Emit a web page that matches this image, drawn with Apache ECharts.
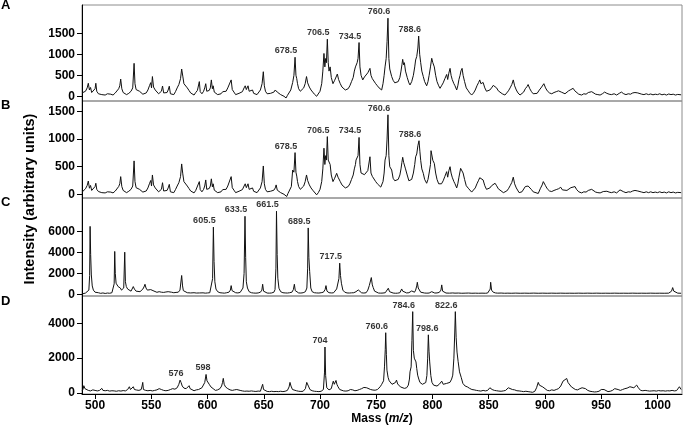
<!DOCTYPE html>
<html>
<head>
<meta charset="utf-8">
<script src="https://cdn.jsdelivr.net/npm/echarts@6.0.0/dist/echarts.min.js"></script>
<style>
  html, body { margin: 0; padding: 0; background: #fff; }
  #main { width: 685px; height: 434px; }
</style>
</head>
<body>
<div id="main"></div>
<script>
// spectra, [m/z, intensity]
var specA = [[488.5,80],[490,60],[491.5,120],[493,200],[494,310],[495,150],[496,210],[497,90],[498.5,130],[500,180],[500.7,310],[501.5,120],[503,60],[504.5,90],[506,40],[507.5,70],[509,30],[511,60],[512.5,20],[514,50],[516,30],[518,80],[519.5,120],[521,180],[522,250],[522.8,410],[523.8,180],[525,90],[526.5,60],[528,40],[530,70],[532,120],[533.5,200],[534.7,785],[535.5,300],[536.5,160],[538,200],[539.5,120],[541,80],[542.5,50],[544,30],[545.5,80],[547,150],[548.5,260],[549.5,325],[550.2,200],[551,470],[552,220],[553.5,150],[555,110],[556.5,60],[558,40],[559,120],[560,245],[561,80],[562.5,40],[564,90],[565,150],[566,240],[567,60],[568.5,80],[570,40],[571.5,110],[573,200],[574.5,280],[576,420],[577,650],[578,480],[579,300],[580.5,330],[582,200],[583.5,140],[585,80],[586.5,50],[588,30],[589.5,90],[591,140],[592.7,350],[593.5,110],[595,60],[596.5,120],[597.5,200],[598.4,300],[599.3,120],[600.5,80],[601.5,140],[602.5,200],[603.4,390],[604.3,180],[605,250],[606,100],[607.5,60],[609,40],[610.5,80],[612,60],[613.5,110],[615,70],[616.5,120],[618,200],[619.5,240],[621,390],[622,160],[623.5,100],[625,40],[626.5,20],[628,70],[629.5,40],[631,110],[632.5,200],[633.5,250],[634.5,160],[636,250],[637,120],[638.5,80],[640,150],[641,70],[642.5,110],[644,40],[645.5,60],[647,150],[648.5,300],[649.6,585],[650.5,250],[651.5,120],[653,60],[654.5,30],[656,70],[657.5,40],[659,100],[660.2,150],[661,190],[662,100],[663.5,60],[665,40],[666.5,20],[668,0],[669.8,-40],[671,20],[672.5,60],[674,150],[675.7,330],[676.8,500],[677.8,930],[678.6,500],[679.3,420],[680,300],[681,180],[682.5,120],[684,100],[685.5,200],[686.8,300],[688,470],[689,320],[690.5,220],[692,150],[693.5,100],[695,50],[697,0],[698.5,40],[700,120],[701.5,300],[702.5,600],[703.5,1020],[704.3,700],[705,900],[705.7,800],[706.5,1360],[707.3,800],[708,600],[709,700],[710,450],[711.5,300],[713,380],[714.2,420],[715.4,530],[716.5,400],[718,300],[719.5,220],[721,180],[722.5,150],[723.7,135],[725,180],[726.5,250],[728,350],[729.5,450],[730.5,600],[731.5,700],[732,745],[733,800],[733.8,900],[734.7,1280],[735.5,700],[736.5,500],[738,390],[739.5,460],[741,500],[742.5,560],[744.4,665],[745.3,500],[746.5,420],[748,380],[749.5,300],[751,250],[752.5,200],[754,170],[754.8,150],[756,300],[757,500],[757.8,700],[758.8,900],[759.6,1300],[760.4,1860],[761.2,900],[762,650],[763.7,470],[765,380],[766.5,320],[768,300],[769.5,350],[771,450],[772,600],[772.8,750],[773.5,880],[774.3,750],[775,800],[776,600],[777.5,450],[779,320],[780,270],[781.5,350],[783,500],[784.2,700],[785,865],[786,950],[787,1150],[787.7,1435],[788.6,1000],[789.5,800],[790.5,600],[791.8,470],[793,350],[794.8,250],[796,350],[797,500],[798.2,700],[799.3,905],[800.3,800],[801.6,700],[802.8,500],[804,350],[805.5,250],[806.7,190],[808,250],[809.5,320],[811,420],[812.6,520],[813.5,400],[814.5,550],[815.6,665],[816.5,500],[817.5,400],[819,300],[820,250],[821.5,150],[822.5,250],[823.5,400],[824.5,500],[825.3,605],[826.3,665],[827.2,500],[828.5,350],[830,200],[831.8,130],[833,80],[834.8,30],[836.5,80],[838,150],[839.5,250],[841,330],[842,390],[843,300],[844,280],[845,330],[846.5,200],[848,120],[849.6,80],[851,150],[852.5,200],[854,260],[855.6,300],[857,200],[858.5,130],[860,100],[862,60],[864.4,30],[866,80],[867.5,130],[869,200],[870.5,280],[871.8,390],[873,250],[874.5,150],[876,80],[877.8,30],[879.5,60],[881,100],[882.5,180],[884,230],[885,280],[886.5,180],[888,110],[889.5,60],[891,30],[893,70],[895,150],[897,220],[899,300],[900.5,200],[902,130],[904,80],[906,60],[908,90],[910,110],[912,130],[913,150],[914.5,100],[916,80],[917.8,60],[919.5,90],[921,130],[923,160],[925,190],[926.5,130],[928,90],[930,50],[932.6,30],[934.5,60],[936.5,50],[938.5,90],[940,80],[941.5,110],[943,70],[945,50],[947,40],[949,30],[951,60],[953,100],[955,70],[957,50],[959,40],[961.5,60],[963.7,30],[966,70],[968,100],[970,60],[972,40],[974,60],[976,50],[978,80],[980,90],[981,110],[982.5,80],[984,60],[986,50],[988,40],[990,60],[992,40],[994,55],[996,35],[998,50],[1000,40],[1002,60],[1004,35],[1006,50],[1008,30],[1010,55],[1012,40],[1014,50],[1016,30],[1018,45],[1021,35]];

var specB = [[488.5,40],[490,50],[491.5,100],[493,160],[494,240],[495,110],[496,160],[497,70],[498.5,100],[500,140],[500.7,200],[501.5,90],[503,50],[504.5,70],[506,30],[507.5,55],[509,25],[511,45],[512.5,15],[514,40],[516,25],[518,60],[519.5,90],[521,140],[522,190],[522.8,320],[523.8,140],[525,70],[526.5,45],[528,30],[530,55],[532,90],[533.5,150],[534.7,605],[535.5,230],[536.5,120],[538,150],[539.5,90],[541,60],[542.5,40],[544,25],[545.5,60],[547,115],[548.5,200],[549.5,250],[550.2,150],[551,350],[552,170],[553.5,115],[555,85],[556.5,45],[558,30],[559,90],[560,210],[561,60],[562.5,30],[564,70],[565,115],[566,180],[567,45],[568.5,60],[570,30],[571.5,85],[573,150],[574.5,210],[576,320],[577,550],[578,370],[579,230],[580.5,250],[582,150],[583.5,105],[585,60],[586.5,40],[588,25],[589.5,70],[591,105],[592.7,230],[593.5,85],[595,45],[596.5,90],[597.5,150],[598.4,260],[599.3,90],[600.5,60],[601.5,105],[602.5,150],[603.4,280],[604.3,135],[605,190],[606,75],[607.5,45],[609,30],[610.5,60],[612,45],[613.5,85],[615,55],[616.5,90],[618,150],[619.5,180],[621,320],[622,120],[623.5,75],[625,30],[626.5,15],[628,55],[629.5,30],[631,85],[632.5,150],[633.5,190],[634.5,120],[636,190],[637,90],[638.5,60],[640,115],[641,55],[642.5,85],[644,30],[645.5,45],[647,115],[648.5,230],[649.6,513],[650.5,190],[651.5,90],[653,45],[654.5,25],[656,55],[657.5,30],[659,75],[660.2,115],[661,170],[662,75],[663.5,45],[665,30],[666.5,15],[668,0],[670.4,-40],[671.5,15],[673,50],[674.5,140],[675.7,440],[676.8,400],[677.8,755],[678.6,400],[679.3,330],[680,230],[681,140],[682.5,90],[684,80],[685.5,150],[686.8,230],[688,350],[689,250],[690.5,170],[692,115],[693.5,75],[695,40],[697,-10],[698.5,30],[700,90],[701.5,230],[702.5,460],[703.5,835],[704.3,540],[705,700],[705.7,620],[706.5,1045],[707.3,620],[708.3,590],[709,540],[710,350],[711.5,230],[713,290],[714.8,380],[716,310],[718,230],[719.5,170],[721,140],[722.5,115],[723.7,110],[725,140],[726.5,190],[728,270],[729.5,350],[730.5,460],[731.5,540],[732,620],[733,620],[733.8,700],[734.7,1030],[735.5,540],[736.5,385],[738,350],[739.5,355],[741,385],[742.5,430],[744.4,680],[745.3,385],[746.5,325],[748,290],[749.5,230],[751,190],[752.5,155],[754,130],[754.8,125],[756,230],[757,385],[757.8,620],[758.8,700],[759.6,1000],[760.4,1440],[761.2,700],[762,500],[763.7,440],[765,290],[766.5,245],[768,260],[769.5,270],[771,350],[772,460],[772.8,580],[773.5,670],[774.3,580],[775,615],[776,460],[777.5,350],[779,245],[780,230],[781.5,270],[783,385],[784.2,540],[785,680],[786,730],[787,880],[788,970],[788.8,770],[789.5,615],[790.5,460],[791.8,380],[793,270],[794.8,200],[796,270],[797,385],[798.2,540],[798.7,790],[800.3,615],[801.6,560],[802.8,385],[804,270],[805.5,190],[806.7,170],[808,190],[809.5,245],[811,325],[812.6,410],[813.5,310],[814.5,425],[815.6,500],[816.5,385],[817.5,310],[819,230],[820,190],[821.5,115],[822.5,190],[823.5,310],[825,470],[826.3,500],[827.2,385],[828.5,270],[830,155],[831.8,110],[833,80],[834.8,40],[836.5,70],[838,115],[839.5,190],[841,255],[842,300],[843.7,310],[845,260],[846.5,155],[848,90],[849.6,60],[851,115],[852.5,155],[854,190],[855.6,200],[857,155],[858.5,100],[860,75],[863,30],[866,60],[867.5,100],[869,155],[870.5,215],[871.8,310],[873,190],[874.5,115],[877,30],[879.5,45],[881,75],[882.5,140],[884,150],[885,150],[886.5,140],[888,85],[889.5,45],[891,25],[894,15],[896,110],[897.5,170],[898.5,230],[900.5,155],[902,100],[904,60],[906,50],[908,70],[910,85],[912,100],[914,127],[915.5,80],[917,60],[919.5,70],[921,100],[923,120],[926.7,140],[928,90],[930,45],[932.6,25],[934.5,45],[936.5,40],[938.5,70],[940,60],[941.5,90],[943,55],[945,40],[947,30],[949,25],[951.8,50],[953,75],[955,55],[957,40],[959,30],[961.5,45],[963.7,25],[966.7,80],[968,70],[970,45],[972,30],[974,45],[976,40],[978,60],[980,70],[981.5,80],[982.5,60],[984,45],[986,40],[988,30],[990,45],[992,30],[994,45],[996,30],[998,40],[1000,30],[1002,45],[1004,30],[1006,40],[1008,25],[1010,45],[1012,30],[1014,40],[1016,25],[1018,35],[1021,30]];

var specC = [[488.5,30],[490,80],[491.5,120],[493,190],[494.5,400],[495.2,1800],[495.6,6500],[496.1,3800],[496.7,1850],[497.5,800],[498.5,400],[500,200],[501.5,100],[503,150],[505,90],[507,130],[509,80],[511,120],[513,100],[515,150],[516.3,190],[517,1000],[517.5,4100],[518,2000],[518.7,1060],[519.5,900],[520.5,740],[521.5,820],[522.5,600],[523.5,400],[524.5,300],[525.5,600],[526.4,4030],[527,1200],[527.8,740],[529,500],[530.5,350],[532,300],[533,450],[534,740],[535,500],[536.5,300],[538,200],[540,250],[541.5,350],[542.5,500],[543.5,700],[544.4,960],[545.3,600],[546.5,400],[548,350],[549.5,450],[550.4,580],[551.5,350],[553,200],[555,190],[557,250],[559,200],[561,180],[563,220],[565,250],[566.7,350],[568,200],[570,150],[572,180],[574,200],[575.5,400],[577,1800],[577.8,800],[578.5,350],[580,200],[582,150],[585,130],[588,150],[590,120],[593,130],[594.5,250],[596,140],[598,110],[600,130],[602,150],[603.5,300],[604.5,1500],[605.2,6430],[605.8,3140],[606.5,1200],[607.5,500],[609,250],[611,150],[613,130],[615,110],[617,150],[619,200],[620.3,400],[621,830],[621.8,350],[623,180],[625,150],[627,130],[629,180],[630.5,300],[631.5,600],[632.5,2000],[633.3,7465],[633.9,3500],[634.5,1200],[635.5,600],[637,250],[639,150],[641,120],[643,110],[645,130],[647,200],[648.3,400],[649,960],[649.8,300],[651,150],[653,120],[655,110],[657,130],[659,200],[660,450],[660.8,2500],[661.3,7950],[661.9,3800],[662.5,1540],[663.5,580],[665,250],[667,150],[669,130],[671,120],[673,150],[675,200],[676.3,450],[677.2,960],[678,350],[679.5,180],[681,130],[683,120],[685,150],[687,250],[688.3,600],[689,2500],[689.5,6350],[690.1,3500],[690.8,2180],[691.8,600],[693,250],[695,150],[697,130],[699,120],[701,150],[703,200],[704.5,450],[705.3,830],[706.2,300],[708,150],[710,130],[712,140],[713.5,250],[714.8,510],[716,600],[716.8,1500],[717.5,2980],[718.2,1800],[719,1060],[720.3,400],[722,200],[724,130],[726,120],[728,140],[730,150],[732,250],[733,350],[734,420],[735,250],[737,140],[739,120],[741,150],[742.5,400],[743.8,830],[744.6,1000],[745.6,1600],[746.5,900],[747.3,640],[748.5,300],[750,150],[752,120],[754,110],[756,120],[758,150],[759.5,300],[760.7,580],[761.8,250],[763,130],[765,120],[767,100],[769,110],[771,150],[772.6,510],[773.5,300],[775,150],[777,130],[779,150],[780.5,200],[781.5,320],[782.5,250],[784,200],[785,400],[786,800],[786.5,1150],[787.3,600],[788.2,500],[789.5,200],[791,130],[793,120],[795,110],[797,120],[799.3,250],[800.5,140],[802,120],[804,130],[806,180],[807.5,400],[808.2,900],[809,300],[810.5,150],[812,120],[815,110],[818,130],[820,110],[823,120],[826,100],[829,110],[832,120],[835,100],[838,110],[841,100],[844,110],[847,100],[849,120],[850.5,200],[851.3,500],[851.7,1150],[852.5,400],[854,200],[856,130],[858,110],[861,120],[864,100],[867,110],[870,100],[874,115],[878,100],[882,110],[886,100],[890,115],[894,100],[898,110],[902,100],[906,110],[910,100],[914,110],[918,100],[922,105],[926,100],[930,110],[934,100],[938,110],[942,100],[946,110],[950,100],[954,105],[958,100],[962,110],[966,100],[970,105],[974,100],[978,110],[982,100],[986,105],[990,100],[994,110],[998,100],[1002,105],[1006,100],[1010,110],[1012.5,300],[1013.5,640],[1014.5,300],[1016,150],[1018,110],[1021,100]];

var specD = [[488.5,115],[489.5,250],[490,420],[491,250],[492.5,180],[494,150],[496,120],[498,180],[500,150],[502,120],[504,150],[506,265],[507,150],[509,130],[511,150],[513,110],[515,130],[517,120],[519,100],[521,130],[523,110],[525,140],[527,120],[529,200],[530.5,360],[531.5,200],[533,250],[534,360],[535,200],[537,170],[539,150],[541,200],[541.8,400],[542.4,610],[543,200],[545,150],[547,130],[549,150],[551,120],[553,150],[555,180],[557,250],[557.8,265],[559,200],[561,150],[563,130],[565,150],[567,200],[569,250],[571,220],[573,300],[574.5,500],[575.6,740],[576.5,600],[577.5,400],[579,280],[581,250],[582.5,300],[583.6,420],[584.5,250],[586,150],[588,130],[590,180],[592,200],[593.3,250],[595,300],[596.5,400],[597.5,600],[598.7,1065],[599.5,700],[600.5,650],[601.5,500],[603,350],[605,250],[607,150],[609,180],[611,250],[612.5,400],[613.3,600],[614,840],[614.8,500],[616,350],[618,250],[620,180],[622,150],[624,180],[626,200],[627.4,265],[629,150],[631,120],[633,100],[635,110],[637,100],[639,120],[641,100],[643,90],[645,110],[647,100],[648.3,200],[649,500],[649.8,200],[651,110],[653,90],[655,80],[657,100],[659,80],[661,90],[663,80],[665,100],[667,80],[669,100],[671,150],[672.5,350],[673.3,610],[674.2,400],[675.5,200],[677,150],[679,130],[681,100],[683,90],[685,100],[687,250],[688.2,610],[689,500],[690,350],[691,200],[693,130],[695,100],[697,90],[699,80],[701,100],[703,200],[704,1200],[704.4,2640],[705,1000],[706,300],[708,180],[710,250],[711,500],[711.8,680],[712.7,500],[713.5,600],[714.2,720],[715,500],[716,360],[717.5,200],[719,150],[721,120],[723,110],[725,130],[727,200],[728,300],[729,180],[731,130],[733,150],[735,200],[737,250],[739,320],[740,360],[741.5,300],[743,250],[745,200],[747,170],[749,160],[751,200],[752.5,300],[753.5,360],[754.8,495],[755.7,480],[756.5,700],[757.3,1500],[758,2500],[758.4,3460],[759,2200],[759.5,1310],[760.5,900],[761.5,700],[762.5,610],[764,500],[765.5,450],[767,600],[768,740],[769,520],[770,450],[771.5,350],[773,300],[775,265],[777,300],[778.5,450],[779.5,800],[780,1215],[781,1500],[781.7,3000],[782.4,4670],[783,2450],[783.8,2000],[785.3,1785],[786,1400],[786.8,1025],[787.8,800],[788.8,610],[790,550],[791,500],[792.5,450],[794,600],[795,1000],[795.7,2000],[796.3,3340],[796.9,2400],[797.5,1785],[798.5,1000],[799.5,610],[801,450],[802.5,360],[804,400],[806,500],[808.2,680],[809.5,500],[811,610],[812.5,550],[814,500],[815.5,610],[817,800],[818,1025],[819,2000],[819.8,3500],[820.3,4670],[821,3200],[821.8,2350],[822.8,1800],[824,1215],[825.5,900],[827,550],[829,400],[831,350],[833,265],[835,200],[837,180],[839,150],[841,130],[843,110],[845,150],[847,120],[849,150],[851,300],[853,200],[855,150],[857,130],[859,110],[861,100],[863,120],[865,150],[867.4,300],[869,250],[871,200],[873,180],[875,130],[877,120],[879,100],[881,80],[883,100],[885,80],[887,60],[889,40],[891,100],[892.5,300],[894,610],[895,450],[896.5,500],[898,350],[900,250],[902,150],[904,130],[906,180],[908,150],[910,200],[912,250],[914,400],[916,680],[917.5,600],[919.3,835],[920.5,600],[922,495],[923.5,350],[925,250],[927,200],[929,180],[931,250],[933,300],[934,360],[936,250],[938,150],[940,100],[942,80],[944,60],[946,70],[948,100],[950,200],[951,300],[952.5,200],[954,100],[956,80],[958,100],[960,150],[962,250],[963.7,300],[965,200],[967,150],[969,200],[971,250],[973,280],[975.5,360],[977,250],[979,300],[981.5,455],[983,300],[985,150],[987,130],[989,150],[991,130],[993,110],[995,120],[997,130],[999,110],[1001,140],[1003,120],[1005,130],[1007,110],[1009,130],[1011,120],[1013,150],[1015,120],[1017,140],[1018.5,250],[1019.5,360],[1021,200]];

// annotated peaks
var peaksA = [[677.8,930],[706.5,1360],[734.7,1280],[760.4,1860],[787.7,1435]];
var namesA = ["678.5","706.5","734.5","760.6","788.6"];
var peaksB = [[677.8,755],[706.5,1045],[734.7,1030],[760.4,1440],[788,970]];
var namesB = ["678.5","706.5","734.5","760.6","788.6"];
var peaksC = [[605.2,6430],[633.3,7465],[661.3,7950],[689.5,6350],[717.5,2980]];
var namesC = ["605.5","633.5","661.5","689.5","717.5"];
var peaksD = [[575.6,740],[598.7,1065],[704.4,2640],[758.4,3460],[782.4,4670],[796.3,3340],[820.3,4670]];
var namesD = ["576","598","704","760.6","784.6","798.6","822.6"];

// y ticks
var ticksA = [0, 500, 1000, 1500];
var ticksB = [0, 500, 1000, 1500];
var ticksC = [0, 2000, 4000, 6000];
var ticksD = [0, 2000, 4000];
var ticksX = [500, 550, 600, 650, 700, 750, 800, 850, 900, 950, 1000];

var font = "Liberation Sans, Arial, sans-serif";
var xMin = 488.4, xMax = 1021.8;

// panel boxes: top, height, ymin, ymax
var panels = [
  { top: 5, height: 96, min: -112, max: 2174, ticks: ticksA, spec: specA, peaks: peaksA, names: namesA },
  { top: 101, height: 97, min: -67, max: 1690, ticks: ticksB, spec: specB, peaks: peaksB, names: namesB },
  { top: 198, height: 98, min: -163, max: 9215, ticks: ticksC, spec: specC, peaks: peaksC, names: namesC },
  { top: 296, height: 98, min: -57, max: 5568, ticks: ticksD, spec: specD, peaks: peaksD, names: namesD }
];

// D labels sit a bit differently over their peaks
var shiftD = { "576": -4, "598": -3, "704": -5, "798.6": -1 };

function plain(v) { return String(v); }

var grid = [], xAxis = [], yAxis = [], series = [];
panels.forEach(function (p, i) {
  var last = i === panels.length - 1;
  grid.push({
    left: 82, width: 600, top: p.top, height: p.height,
    show: true, borderColor: "#8c8c8c", borderWidth: 1,
    containLabel: false, outerBoundsMode: "none"
  });
  xAxis.push({
    type: "value", gridIndex: i, min: xMin, max: xMax,
    show: last,
    axisLine: { show: true, onZero: false, lineStyle: { color: "#000", width: 1 } },
    axisTick: { show: true, inside: false, length: 5, customValues: ticksX, lineStyle: { color: "#000" } },
    axisLabel: { show: true, customValues: ticksX, formatter: plain, margin: 6, color: "#000", fontSize: 12, fontWeight: "bold", fontFamily: font },
    splitLine: { show: false }
  });
  yAxis.push({
    type: "value", gridIndex: i, min: p.min, max: p.max,
    axisLine: { show: true, onZero: false, lineStyle: { color: "#000", width: 1 } },
    axisTick: { show: true, inside: false, length: 5, customValues: p.ticks, lineStyle: { color: "#000" } },
    axisLabel: { show: true, customValues: p.ticks, formatter: plain, margin: 7, color: "#000", fontSize: 12, fontWeight: "bold", fontFamily: font },
    splitLine: { show: false }
  });
  series.push({
    type: "line", xAxisIndex: i, yAxisIndex: i, data: p.spec,
    showSymbol: false, symbol: "none", smooth: false,
    lineStyle: { color: "#111", width: 1 },
    silent: true
  });
  series.push({
    type: "scatter", xAxisIndex: i, yAxisIndex: i, symbolSize: 0,
    data: p.peaks.map(function (pt, k) {
      var dx = last && shiftD[p.names[k]] !== undefined ? shiftD[p.names[k]] : -9;
      return { name: p.names[k], value: pt, label: { offset: [dx, 0] } };
    }),
    label: {
      show: true, position: "top", distance: 2,
      formatter: function (d) { return d.name; },
      color: "#000", fontSize: 9, fontWeight: "bold", fontFamily: font
    },
    silent: true
  });
});

var letters = ["A", "B", "C", "D"];
var letterY = [7, 107, 204, 303];
var graphic = letters.map(function (t, i) {
  return {
    type: "text", left: 1, top: letterY[i] - 8,
    style: { text: t, fill: "#000", font: "bold 13px " + font }
  };
});
graphic.push({
  type: "text", x: 30, y: 199, rotation: Math.PI / 2,
  style: { text: "Intensity (arbitrary units)", fill: "#000", font: "bold 14.5px " + font, align: "center", verticalAlign: "middle" }
});
graphic.push({
  type: "text", x: 382, y: 419,
  style: {
    text: "{a|Mass (}{b|m/z}{a|)}", align: "center", verticalAlign: "middle",
    rich: {
      a: { fontSize: 12, fontWeight: "bold", fontFamily: font, fill: "#000" },
      b: { fontSize: 12, fontWeight: "bold", fontStyle: "italic", fontFamily: font, fill: "#000" }
    }
  }
});

var myChart = echarts.init(document.getElementById("main"));
myChart.setOption({
  animation: false,
  backgroundColor: "#fff",
  grid: grid,
  xAxis: xAxis,
  yAxis: yAxis,
  series: series,
  graphic: graphic
});
</script>
</body>
</html>
